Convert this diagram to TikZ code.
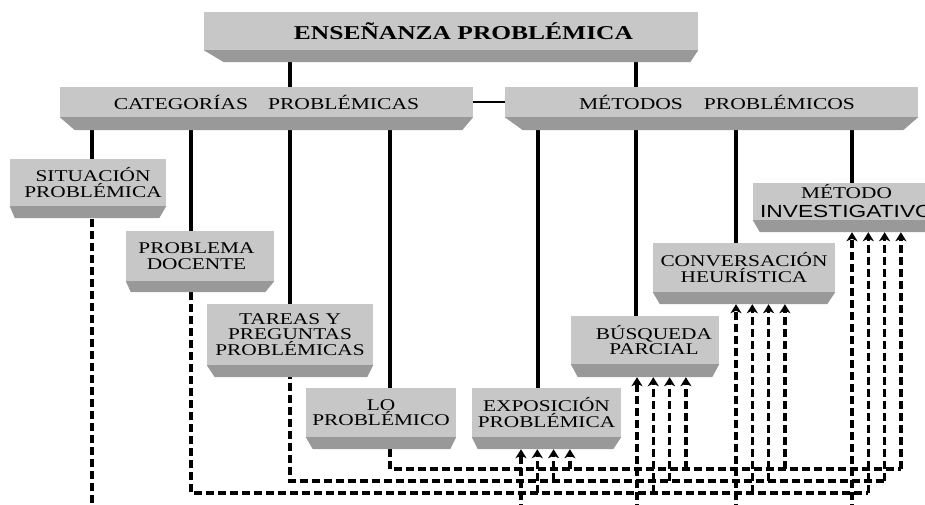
\documentclass[tikz,border=0pt]{standalone}
\usepackage{fontspec}
\setmainfont[FakeStretch=1.3]{Liberation Serif}
\newfontfamily\boxsans[FakeStretch=1.3]{Liberation Sans}
\usetikzlibrary{arrows.meta,backgrounds}
\definecolor{boxlight}{RGB}{199,199,199}
\definecolor{boxdark}{RGB}{153,153,153}
\tikzset{
  bevelbox/.style={fill=boxlight, inner sep=0pt, align=center,
    font=\fontsize{16.4}{15.5}\selectfont},
  link/.style={line width=3.2pt},
  buslink/.style={line width=3.2pt, dash pattern=on 8pt off 4pt},
  uplink/.style={buslink, -{Stealth[length=9pt,width=11pt,inset=2.5pt]}},
}

\begin{document}
\begin{tikzpicture}[x=1pt, y=-1pt]
\useasboundingbox (0,0) rectangle (925,504);
\clip (0,0) rectangle (925,504);

% cabecera y ramas
\node[bevelbox, minimum width=494pt, minimum height=38pt,
      font=\fontsize{19.6}{20}\selectfont\bfseries] (ens) at (451,31)
      {\hspace*{25pt}ENSEÑANZA PROBLÉMICA};
\node[bevelbox, minimum width=413pt, minimum height=30pt,
      font=\fontsize{16.6}{17}\selectfont] (cat) at (266.5,102)
      {CATEGORÍAS\hspace{20pt}PROBLÉMICAS};
\node[bevelbox, minimum width=413pt, minimum height=30pt,
      font=\fontsize{16.6}{17}\selectfont] (met) at (711.5,102)
      {\hspace*{11pt}MÉTODOS\hspace{21pt}PROBLÉMICOS};

% categorias
\node[bevelbox, minimum width=156pt, minimum height=47pt] (sit) at (88,182.5)
      {\hspace*{10pt}SITUACIÓN\\\hspace*{10pt}PROBLÉMICA};
\node[bevelbox, minimum width=148pt, minimum height=50pt] (doc) at (200,256)
      {PROBLEMA\hspace*{7pt}\\DOCENTE\hspace*{7pt}};
\node[bevelbox, minimum width=166pt, minimum height=61pt] (tar) at (290,334.5)
      {TAREAS Y\\PREGUNTAS\\PROBLÉMICAS};
\node[bevelbox, minimum width=150pt, minimum height=49pt] (lop) at (381,412.5)
      {LO\\PROBLÉMICO};

% metodos
\node[bevelbox, minimum width=149pt, minimum height=49pt] (exp) at (546.5,412.5)
      {EXPOSICIÓN\\PROBLÉMICA};
\node[bevelbox, minimum width=148pt, minimum height=48pt] (bus) at (645,340)
      {\hspace*{18pt}BÚSQUEDA\\\hspace*{18pt}PARCIAL};
\node[bevelbox, minimum width=182pt, minimum height=49pt] (con) at (744,267.5)
      {CONVERSACIÓN\\HEURÍSTICA};
\node[bevelbox, minimum width=187pt, minimum height=37pt,
      font=\fontsize{16.4}{19}\selectfont] (inv) at (846.5,201.5)
      {MÉTODO\\{\boxsans\fontsize{17.5}{19}\selectfont INVESTIGATIVO}};

% caras inferiores
\foreach \nm/\dep/\ls/\rs in {ens/12/20/8, cat/13/15/11, met/13/18/15,
    sit/12/5/7, doc/11/5/9, tar/12/8/6, lop/12/7/6,
    exp/12/6/8, bus/13/7/7, con/12/7/8, inv/12/7/7}
  \fill[boxdark] (\nm.south west) -- (\nm.south east)
    -- ([shift={(-\rs,\dep)}]\nm.south east)
    -- ([shift={(\ls,\dep)}]\nm.south west) -- cycle;

\begin{scope}[on background layer]
  \draw[link] ([xshift=23.5]cat.center) -- ([xshift=23.5]cat.center |- ens.center);
  \draw[link] ([xshift=-75.5]met.center) -- ([xshift=-75.5]met.center |- ens.center);
  \draw[line width=1.4pt] (cat) -- (met);
  \foreach \nm/\dx in {sit/4, doc/-9, tar/0, lop/9}
    \draw[link] ([xshift=\dx]\nm.center) -- ([xshift=\dx]\nm.center |- cat.center);
  \foreach \nm/\dx in {exp/-8.5, bus/-9, con/-8, inv/5.5}
    \draw[link] ([xshift=\dx]\nm.center) -- ([xshift=\dx]\nm.center |- met.center);
  % cada categoria baja a su nivel y sube a cada metodo
  \foreach \nm/\dx/\lv/\k in {sit/4/512/0, doc/-9/493/1, tar/0/481/2, lop/9/469/3} {
    \coordinate (lv) at (0,\lv);
    \draw[buslink] ([xshift=\dx]\nm.center) |- ([xshift=5.5+16.3*\k]inv.south |- lv);
    \foreach \mt/\mx/\dep in {exp/-25.5/12, bus/-8/13, con/-8/12, inv/5.5/12}
      \draw[uplink] ([xshift=\mx+16.3*\k]\mt.south |- lv)
        -- ([shift={(\mx+16.3*\k,\dep)}]\mt.south);
  }
\end{scope}
\end{tikzpicture}
\end{document}
